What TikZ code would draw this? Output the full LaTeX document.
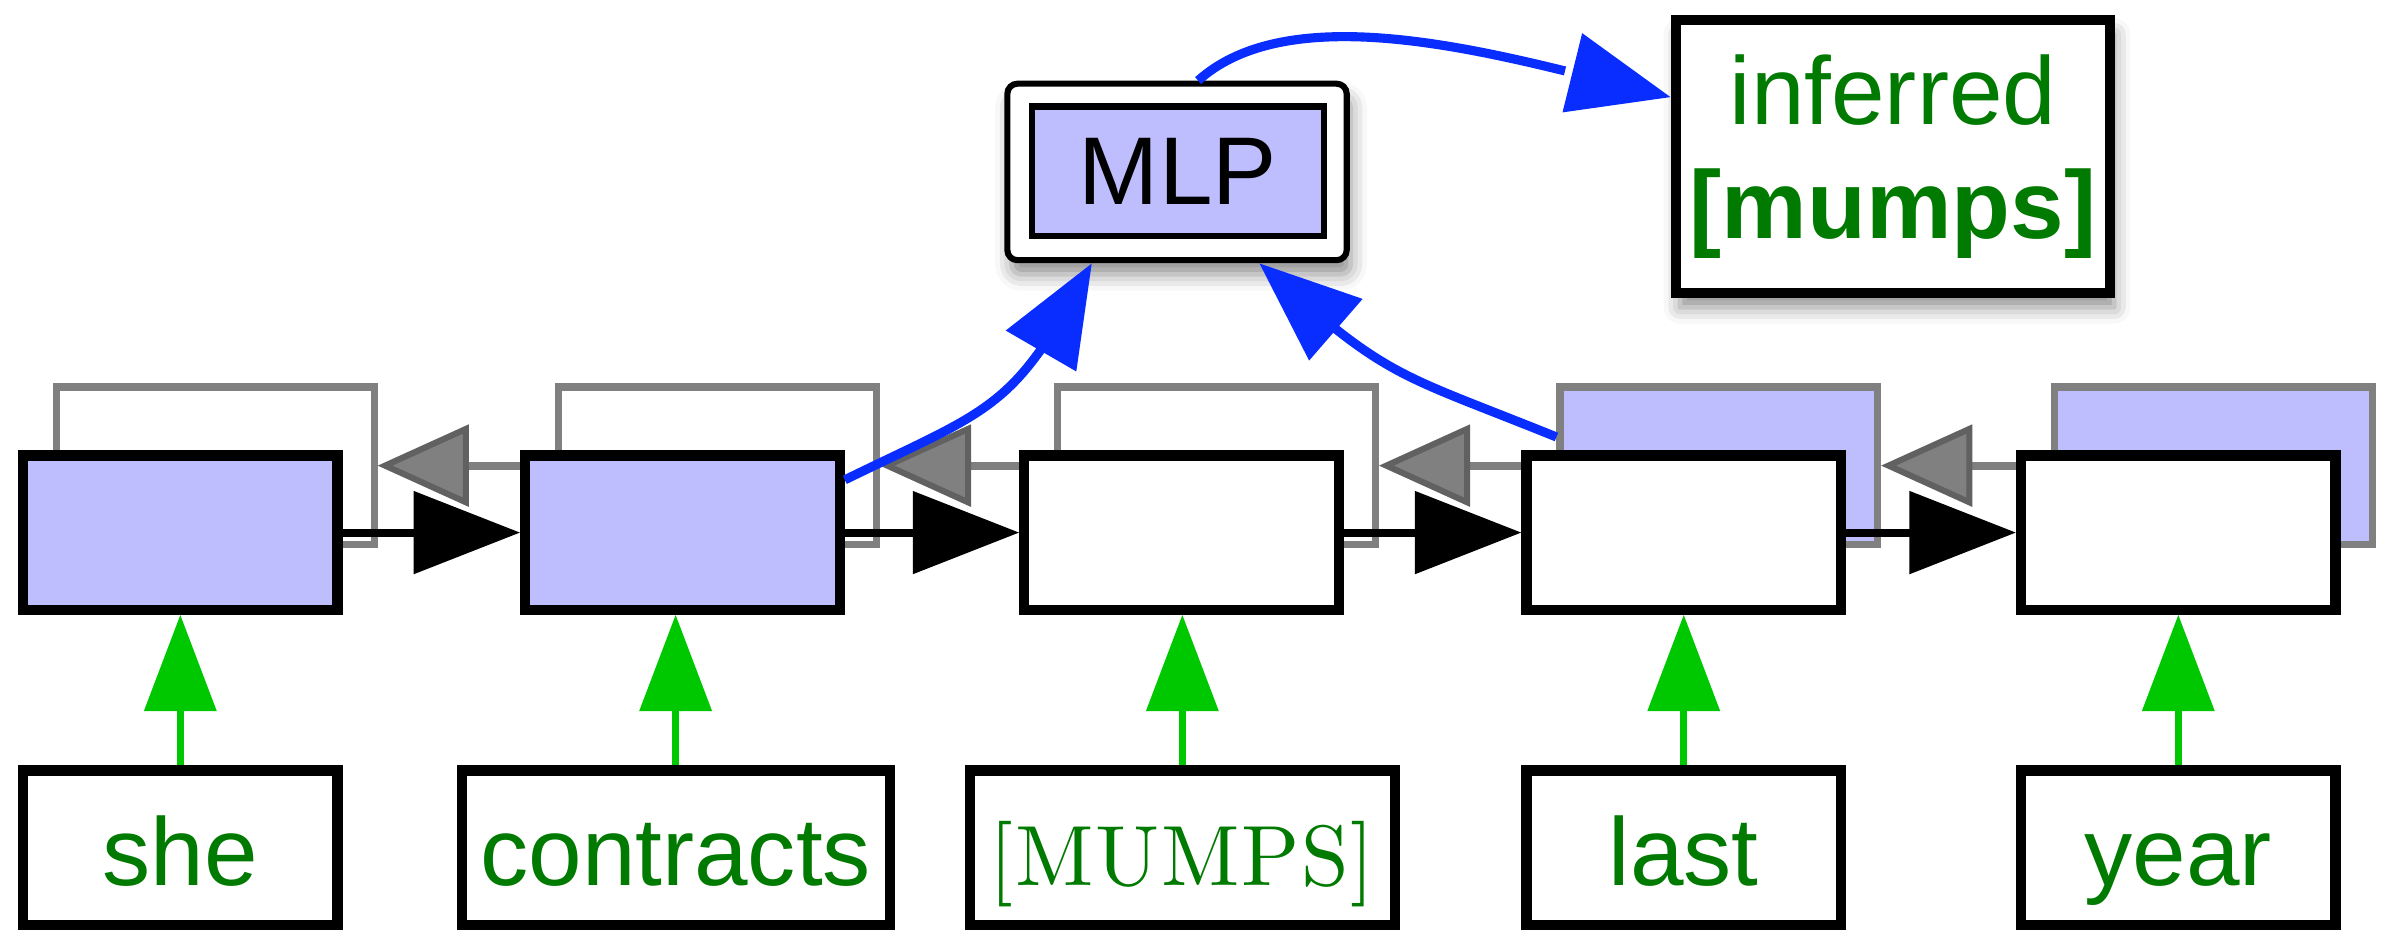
\documentclass[tikz,border=0pt]{standalone}
\usepackage{fontspec}
\setmainfont{Liberation Sans}
\newfontfamily\mumpsfont[LetterSpace=2]{lmroman10-regular.otf}
\usetikzlibrary{arrows.meta,bending,shadows.blur}
\definecolor{lav}{RGB}{190,190,255}
\definecolor{wordgreen}{RGB}{0,122,0}
\definecolor{arrgreen}{RGB}{0,200,0}
\definecolor{arrblue}{RGB}{10,45,255}

\begin{document}
\begin{tikzpicture}[x=0.15mm, y=-0.15mm,
  font=\fontsize{27}{32}\selectfont,
  fwd/.style={draw, line width=1mm, minimum width=31mm, minimum height=15.2mm, inner sep=0pt},
  bwd/.style={draw=black!50, line width=0.7mm, minimum width=31.3mm, minimum height=15.5mm, inner sep=0pt},
  word/.style={draw, line width=1mm, fill=white, minimum height=15.2mm, inner sep=0pt,
    text height=21pt, text depth=0pt, text=wordgreen},
  fwdarrow/.style={line width=0.8mm, -{Triangle[length=10.5mm, width=8mm]}},
  bwdarrow/.style={draw=black!50, line width=0.8mm, -{Triangle[length=9mm, width=8mm, color=black!62, fill=black!50, line width=0.6mm]}},
  uparrow/.style={draw=arrgreen, line width=0.7mm, -{Triangle[length=9.5mm, width=7mm]}},
  feed/.style={draw=arrblue, line width=0.9mm, -{Triangle[length=10mm, width=7.8mm, flex]}},
  shade/.style={blur shadow={shadow xshift=0.4mm, shadow yshift=-1.4mm, shadow blur radius=1.6mm, shadow opacity=45}}]
\useasboundingbox (0,0) rectangle (1568,611);

\foreach \i/\x/\bc in {1/118.5/white, 2/448.5/white, 3/776.5/white, 4/1106.5/lav, 5/1431.5/lav}
  \node[bwd, fill=\bc] (b\i) at (\x+23,306) {};
\foreach \i/\j in {1/2, 2/3, 3/4, 4/5}
  \draw[bwdarrow] (b\j.west) -- (b\i.east);

\foreach \i/\x/\fc in {1/118.5/lav, 2/448.5/lav, 3/776.5/white, 4/1106.5/white, 5/1431.5/white}
  \node[fwd, fill=\fc] (f\i) at (\x,350) {};
\foreach \i/\j in {1/2, 2/3, 3/4, 4/5}
  \draw[fwdarrow] (f\i.east) -- (f\j.west);

\foreach \i/\x/\w/\t in {1/118.5/31mm/she, 2/444/42.2mm/contracts,
    3/777/41.9mm/{\fontsize{24}{28}\mumpsfont[MUMPS]}, 4/1106.5/31mm/last, 5/1431.5/31mm/year}{
  \node[word, minimum width=\w] (w\i) at (\x,557) {\t};
  \draw[uparrow] (w\i.north) -- (w\i.north |- f\i.south);
}

\node[draw, line width=0.6mm, rounded corners=1mm, fill=white, minimum width=33.45mm,
  minimum height=17.4mm, shade] (mlpbox) at (773.5,113) {};
\node[draw, line width=0.6mm, fill=lav, minimum width=28.8mm, minimum height=12.75mm] (mlp) at (774,112.5) {MLP};
\node[draw, line width=1mm, fill=white, minimum width=42.8mm, minimum height=26.9mm,
  align=center, text=wordgreen, shade] (inf) at (1244,103) {inferred\\\textbf{[mumps]}};

\draw[feed] (f2.18) to[out=26, in=-118, looseness=1.3] (mlpbox.-133);
\draw[feed] (b4.170) to[out=158, in=-42, looseness=1.3] (mlpbox.-48);
\draw[feed] (mlpbox.77) to[out=42, in=167, looseness=0.75] (inf.165);
\end{tikzpicture}
\end{document}
